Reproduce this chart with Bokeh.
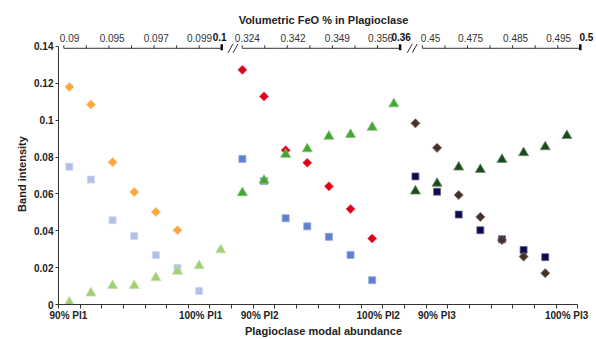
import numpy as np
from bokeh.plotting import figure
from bokeh.models import Range1d, FixedTicker, LinearAxis
from bokeh.embed import file_html
from bokeh.resources import INLINE

FONT = "Liberation Sans"

# ---- data: band intensity per category slot (24 slots along the x axis) ----
n_slots = 24
pl1_orange_start, pl1_orange = 0, [0.118, 0.1085, 0.0772, 0.061, 0.0502, 0.0403]
pl1_blue_start, pl1_blue = 0, [0.0747, 0.0678, 0.0457, 0.0372, 0.0268, 0.0199, 0.0073]
pl1_green_start, pl1_green = 0, [0.0012, 0.0062, 0.0102, 0.0102, 0.0145, 0.018, 0.021, 0.0296]
pl2_red_start, pl2_red = 8, [0.1273, 0.1129, 0.0837, 0.0769, 0.0641, 0.0518, 0.0358]
pl2_blue_start, pl2_blue = 8, [0.079, 0.067, 0.0468, 0.0424, 0.0367, 0.0269, 0.0132]
pl2_green_start, pl2_green = 8, [0.0606, 0.0673, 0.0814, 0.0844, 0.0912, 0.0922, 0.0961, 0.1088]
pl3_brown_start, pl3_brown = 16, [0.0983, 0.085, 0.0594, 0.0475, 0.035, 0.026, 0.017]
pl3_navy_start, pl3_navy = 16, [0.0695, 0.0612, 0.0488, 0.0403, 0.0354, 0.0296, 0.0257]
pl3_dkgreen_start, pl3_dkgreen = 16, [0.0615, 0.0657, 0.0745, 0.0732, 0.0786, 0.0823, 0.0855, 0.0916]

y_ticks = [0, 0.02, 0.04, 0.06, 0.08, 0.1, 0.12, 0.14]
y_tick_labels = ["0", "0.02", "0.04", "0.06", "0.08", "0.1", "0.12", "0.14"]

bottom_labels = ["90% Pl1", "100% Pl1", "90% Pl2", "100% Pl2", "90% Pl3", "100% Pl3"]
bottom_label_pos = [0.46, 6.57, 9.3, 14.78, 17.49, 23.49]

# top (secondary) axis: three broken segments of 8 ticks each
top_labels = ["0.09", "0.095", "0.097", "0.099",
              "0.324", "0.342", "0.349", "0.356",
              "0.45", "0.475", "0.485", "0.495"]
top_label_pos = [0.51, 2.48, 4.52, 6.52, 8.73, 10.84, 12.89, 14.89, 17.2, 19.05, 21.13, 23.12]
top_bold_labels = ["0.1", "0.36", "0.5"]
top_bold_pos = [7.45, 15.84, 24.4]
seg_starts = [0.245, 8.49, 16.82]
seg_step = 1.043
top_line_y = 0.139          # level of the broken top axis line
px = 1.0 / 1850.0            # one pixel in y data units

# ---- figure ----
p = figure(width=596, height=339, output_backend="svg", toolbar_location=None,
           x_range=Range1d(0, 24.5), y_range=Range1d(0, 0.1416),
           min_border_left=58, min_border_right=8, min_border_top=43, min_border_bottom=33)
p.outline_line_color = None
p.xgrid.visible = False
p.ygrid.visible = False
p.background_fill_color = "white"

def xs(start, vals):
    return [start + i + 0.5 for i in range(len(vals))]

sq = dict(marker="square", size=7, line_width=0.8)
dm = dict(marker="square", size=6.5, angle=np.pi / 4, line_width=0.8)
tr = dict(marker="triangle", size=10, line_width=0.8)

# squares first, then diamonds, then triangles
p.scatter(xs(pl1_blue_start, pl1_blue), pl1_blue, fill_color="#B4BFE8", line_color="#CDD5F0", **sq)
p.scatter(xs(pl2_blue_start, pl2_blue), pl2_blue, fill_color="#5F7FCF", line_color="#8FA5DD", **sq)
p.scatter(xs(pl3_navy_start, pl3_navy), pl3_navy, fill_color="#0B0B4D", line_color="#6A6A95", **sq)
p.scatter(xs(pl1_orange_start, pl1_orange), pl1_orange, fill_color="#F8A83E", line_color="#FBC77E", **dm)
p.scatter(xs(pl2_red_start, pl2_red), pl2_red, fill_color="#E0001A", line_color="#EE6070", **dm)
p.scatter(xs(pl3_brown_start, pl3_brown), pl3_brown, fill_color="#45332A", line_color="#8A7A70", **dm)
p.scatter(xs(pl1_green_start, pl1_green), pl1_green, fill_color="#A2CF74", line_color="#C2E0A2", **tr)
p.scatter(xs(pl2_green_start, pl2_green), pl2_green, fill_color="#43A632", line_color="#80C475", **tr)
p.scatter(xs(pl3_dkgreen_start, pl3_dkgreen), pl3_dkgreen, fill_color="#1C4A1C", line_color="#6E8E6E", **tr)

# ---- left axis ----
ya = p.yaxis[0]
ya.ticker = FixedTicker(ticks=y_ticks)
ya.bounds = (0, 0.14)
ya.major_label_overrides = {t: s for t, s in zip(y_ticks, y_tick_labels)}
ya.minor_tick_line_color = None
ya.major_tick_out = 3
ya.major_tick_in = 0
ya.major_label_standoff = 2
ya.major_label_text_font = FONT
ya.major_label_text_font_style = "bold"
ya.major_label_text_font_size = "10px"
ya.major_label_text_color = "#222222"
ya.axis_label = "Band intensity"
ya.axis_label_text_font = FONT
ya.axis_label_text_font_style = "bold"
ya.axis_label_text_font_size = "11px"
ya.axis_label_text_color = "#222222"
ya.axis_label_standoff = 3
ya.axis_line_color = "#333333"
ya.major_tick_line_color = "#333333"

# ---- bottom axis ----
xa = p.xaxis[0]
xa.bounds = (0, n_slots)
xa.ticker = FixedTicker(ticks=bottom_label_pos, minor_ticks=list(range(n_slots + 1)))
xa.major_label_overrides = {t: s for t, s in zip(bottom_label_pos, bottom_labels)}
xa.major_tick_out = 0
xa.major_tick_in = 0
xa.minor_tick_out = 4
xa.minor_tick_in = 0
xa.major_label_standoff = 1
xa.major_label_text_font = FONT
xa.major_label_text_font_style = "bold"
xa.major_label_text_font_size = "10px"
xa.major_label_text_color = "#222222"
xa.axis_label = "Plagioclase modal abundance"
xa.axis_label_text_font = FONT
xa.axis_label_text_font_style = "bold"
xa.axis_label_text_font_size = "11px"
xa.axis_label_text_color = "#222222"
xa.axis_label_standoff = 1
xa.axis_line_color = "#333333"
xa.minor_tick_line_color = "#333333"

# ---- top axis: labels through two Bokeh axes, line/ticks/breaks as in-frame decorations ----
all_top_ticks = [s + k * seg_step for s in seg_starts for k in range(8)]
seg_ends = [s + 7 * seg_step for s in seg_starts]

def label_axis(pos, texts, bold, standoff):
    ax = LinearAxis(ticker=FixedTicker(ticks=pos))
    ax.major_label_overrides = {t: s for t, s in zip(pos, texts)}
    ax.axis_line_color = None
    ax.major_tick_line_color = None
    ax.minor_tick_line_color = None
    ax.major_tick_out = 0
    ax.major_tick_in = 0
    ax.major_label_standoff = standoff
    ax.major_label_text_font = FONT
    ax.major_label_text_font_size = "10px"
    ax.major_label_text_font_style = "bold" if bold else "normal"
    ax.major_label_text_color = "#111111" if bold else "#333333"
    return ax

ta1 = label_axis(top_bold_pos, top_bold_labels, True, 3)
p.add_layout(ta1, "above")
ta2 = label_axis(top_label_pos, top_labels, False, -12)
ta2.axis_label = "Volumetric FeO % in Plagioclase"
ta2.axis_label_text_font = FONT
ta2.axis_label_text_font_style = "bold"
ta2.axis_label_text_font_size = "11px"
ta2.axis_label_text_color = "#222222"
ta2.axis_label_standoff = 5
p.add_layout(ta2, "above")

axc = "#333333"
p.segment(x0=seg_starts, y0=[top_line_y] * 3, x1=seg_ends, y1=[top_line_y] * 3,
          line_color=axc, line_width=1)
p.segment(x0=all_top_ticks, y0=[top_line_y] * len(all_top_ticks), x1=all_top_ticks,
          y1=[top_line_y + 3 * px] * len(all_top_ticks), line_color=axc, line_width=1)
p.segment(x0=seg_ends, y0=[top_line_y - 2 * px] * 3, x1=seg_ends,
          y1=[top_line_y + 4 * px] * 3, line_color="#111111", line_width=2.5)
# break marks "//" between segments
ux = 1.0 / 21.625
brk_x0, brk_x1, brk_y0, brk_y1 = [], [], [], []
for i in range(2):
    c = (seg_ends[i] + seg_starts[i + 1]) / 2 + 0.05
    for d in (-2.5, 2.5):
        brk_x0.append(c + (d - 2.5) * ux)
        brk_x1.append(c + (d + 2.5) * ux)
        brk_y0.append(top_line_y - 4.5 * px)
        brk_y1.append(top_line_y + 4.5 * px)
p.segment(x0=brk_x0, y0=brk_y0, x1=brk_x1, y1=brk_y1, line_color=axc, line_width=1)

open("out.html", "w").write(file_html(p, INLINE))
